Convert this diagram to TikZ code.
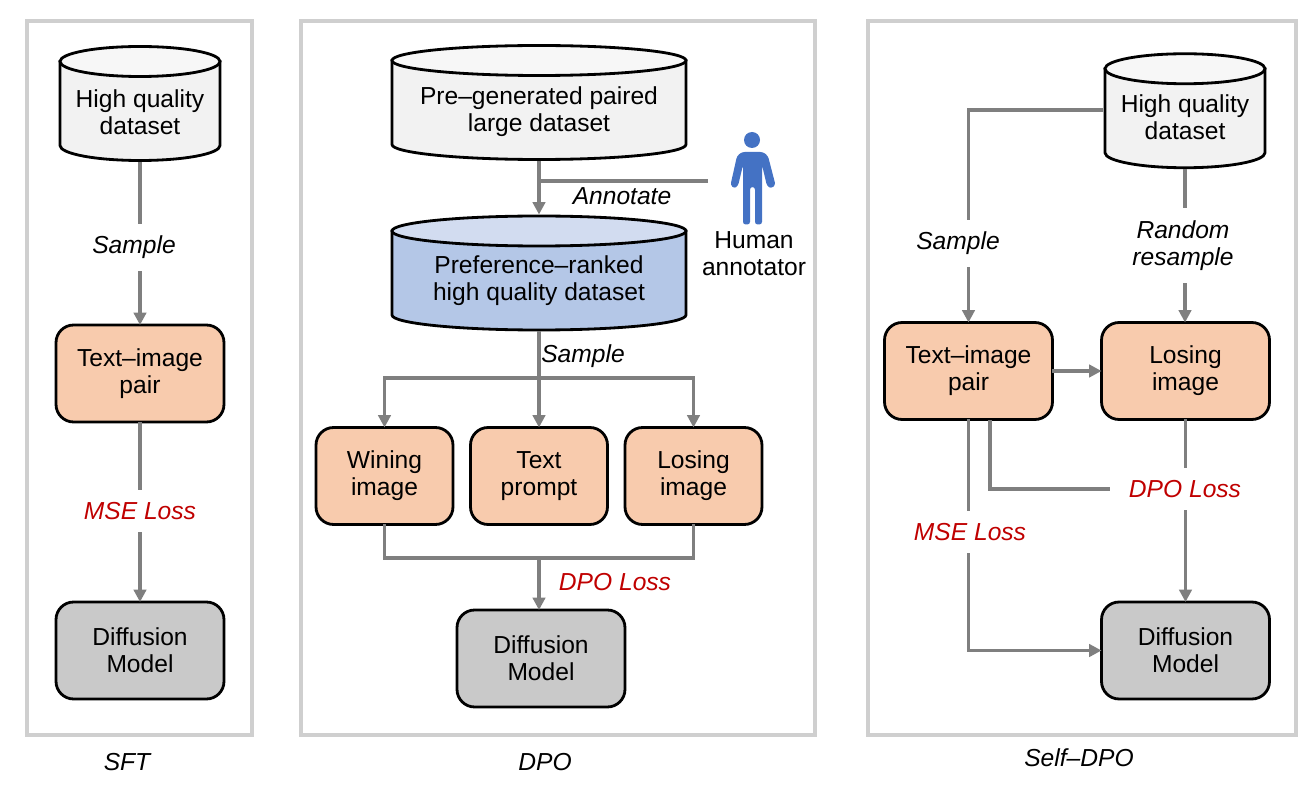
\documentclass[tikz,border=0pt]{standalone}
\usepackage{fontspec}
\setmainfont{Liberation Sans}
\usetikzlibrary{arrows.meta}
\definecolor{framegray}{HTML}{CFCFCF}
\definecolor{linegray}{HTML}{7F7F7F}
\definecolor{peachbox}{HTML}{F8CBAD}
\definecolor{modelgray}{HTML}{C9C9C9}
\definecolor{dbbody}{HTML}{F2F2F2}
\definecolor{dbtop}{HTML}{F7F7F7}
\definecolor{rankbody}{HTML}{B4C7E7}
\definecolor{ranktop}{HTML}{D2DCF0}
\definecolor{personblue}{HTML}{4472C4}
\definecolor{lossred}{HTML}{C00000}
\tikzset{
  every node/.style={font=\fontsize{14}{15.3}\selectfont,align=center},
  frame/.style={draw=framegray,line width=2.8pt},
  flow/.style={draw=linegray,line width=2pt},
  flowarrow/.style={flow,->},
  pairbox/.style={draw=black,line width=1.6pt,rounded corners=10pt,fill=peachbox,minimum width=3.36cm,minimum height=1.94cm,outer sep=0pt},
  smallbox/.style={pairbox,minimum width=2.74cm},
  modelbox/.style={pairbox,fill=modelgray},
  dbedge/.style={draw=black,line width=1.6pt},
  dbarea/.style={minimum height=2.34cm,inner sep=0pt,outer sep=0pt},
  steplabel/.style={font=\fontsize{14}{15.3}\selectfont\itshape},
  whitelabel/.style={steplabel,fill=white,inner xsep=2pt,inner ysep=7pt},
  losslabel/.style={whitelabel,text=lossred},
  caption/.style={steplabel},
}
% name, x, y, half width, body colour, top colour
\newcommand{\dbcylinder}[6]{
	\node[dbarea,minimum width=#4*0.04cm+2pt] (#1) at (#2,#3) {};
	\draw[dbedge,fill=#5] ({#2-#4},{#3-42}) -- ({#2-#4},{#3+42}) arc[start angle=180,end angle=0,x radius=#4,y radius=15] -- ({#2+#4},{#3-42}) -- cycle;
	\draw[dbedge,fill=#6] (#2,{#3-42}) ellipse[x radius=#4,y radius=15];
}
\begin{document}
\begin{tikzpicture}[x=0.02cm,y=-0.02cm,>={Triangle[length=7pt,width=7pt]}]
	\useasboundingbox (0,0) rectangle (1312,797);
	% Frames
	\draw[frame] (27,21) rectangle (252,735);
	\draw[frame] (301,21) rectangle (815,735);
	\draw[frame] (868,21) rectangle (1296,735);
	% SFT
	\dbcylinder{sftdata}{140}{103.5}{80}{dbbody}{dbtop}
	\node (sftdatatext) at (140,112.5) {High quality\\dataset};
	\node[pairbox] (sftpair) at (140,373.5) {Text–image\\pair};
	\node[modelbox] (sftmodel) at (140,650.5) {Diffusion\\Model};
	\draw[flowarrow] (sftdata) -- (sftpair);
	\draw[flowarrow] (sftpair) -- (sftmodel);
	\node[whitelabel] (sftsample) at (134,247.5) {Sample};
	\node[losslabel] (sftloss) at (140,511) {MSE Loss};
	\node[caption] (sftname) at (127,762) {SFT};
	% DPO
	\dbcylinder{rawdata}{539}{102.5}{147}{dbbody}{dbtop}
	\node (rawdatatext) at (539,111.5) {Pre–generated paired\\large dataset};
	\dbcylinder{rankdata}{539}{273}{147}{rankbody}{ranktop}
	\node (rankdatatext) at (539,280.5) {Preference–ranked\\high quality dataset};
	\node[smallbox] (wining) at (384.5,476) {Wining\\image};
	\node[smallbox] (prompt) at (539,476) {Text\\prompt};
	\node[smallbox] (losing) at (693.5,476) {Losing\\image};
	\node[modelbox] (dpomodel) at (541,658.5) {Diffusion\\Model};
	\coordinate (annotator) at (708,181);
	\coordinate (rawjoin) at (rawdata.south |- annotator);
	\coordinate (split) at (539,378);
	\coordinate (merge) at (539,558);
	\draw[flowarrow] (rawdata) -- (rankdata);
	\draw[flow] (annotator) -- (rawjoin);
	\draw[flow] (rankdata) -- (split);
	\draw[flowarrow] (split) -| (wining);
	\draw[flowarrow] (split) -- (prompt);
	\draw[flowarrow] (split) -| (losing);
	\draw[flow] (wining) |- (merge);
	\draw[flow] (losing) |- (merge);
	\draw[flowarrow] (merge) -- (merge |- dpomodel.north);
	\node[steplabel] (annotate) at (622,196) {Annotate};
	\node[steplabel] (dposample) at (583,356) {Sample};
	\node[steplabel,text=lossred] (dpoloss) at (615,582) {DPO Loss};
	\node[caption] (dponame) at (545,762) {DPO};
	% Human annotator
	\node (human) at (754,253.5) {Human\\annotator};
	\fill[personblue] (752,140) circle (8);
	\fill[personblue,rounded corners=1.5pt] (742,152) -- (763,152) -- (768,156) -- (775.5,185) -- (771,188.5) -- (767,186) -- (762,165) -- (762,224.5) -- (755,224.5) -- (755,187) -- (750,187) -- (750,224.5) -- (743,224.5) -- (743,165) -- (738,186) -- (734,188.5) -- (730.5,185) -- (737,156) -- cycle;
	% Self-DPO
	\dbcylinder{selfdata}{1185}{110.75}{80}{dbbody}{dbtop}
	\node (selfdatatext) at (1185,117.5) {High quality\\dataset};
	\node[pairbox] (selfpair) at (968.5,371) {Text–image\\pair};
	\node[pairbox] (selflosing) at (1185.5,371) {Losing\\image};
	\node[modelbox] (selfmodel) at (1185.5,650.5) {Diffusion\\Model};
	\coordinate (selfturn) at (968.5,110);
	\coordinate (selftap) at (990,420);
	\coordinate (selfend) at (1110,489);
	\draw[flowarrow] (selfdata.west |- selfturn) -- (selfturn) -- (selfpair);
	\draw[flowarrow] (selfdata.south) -- (selflosing.north -| selfdata.south);
	\draw[flowarrow] (selfpair) -- (selflosing);
	\draw[flowarrow] (selflosing) -- (selfmodel);
	\draw[flowarrow] (selfpair) |- (selfmodel);
	\draw[flow] (selftap) |- (selfend);
	\node[whitelabel] (selfsample) at (958,243.5) {Sample};
	\node[whitelabel] (selfresample) at (1183,245.5) {Random\\resample};
	\node[losslabel] (selfdpoloss) at (1185,489) {DPO Loss};
	\node[losslabel] (selfmse) at (970,532) {MSE Loss};
	\node[caption] (selfname) at (1079,758) {Self–DPO};
\end{tikzpicture}
\end{document}
